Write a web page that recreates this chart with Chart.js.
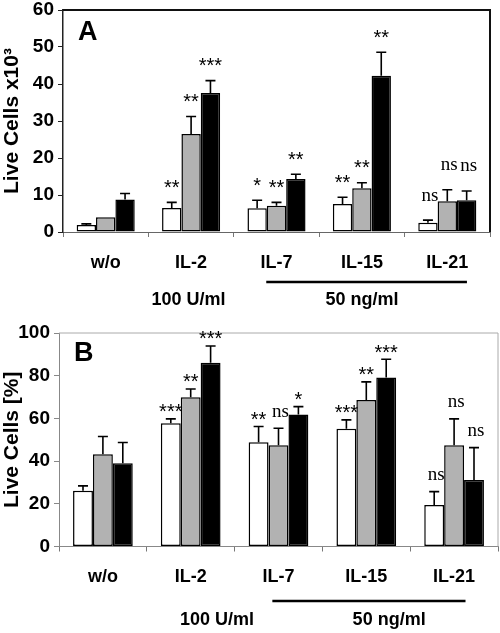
<!DOCTYPE html>
<html>
<head>
<meta charset="utf-8">
<script src="https://cdn.jsdelivr.net/npm/chart.js@4.4.0/dist/chart.umd.min.js"></script>
<style>
  body { margin: 0; background: #fff; }
  #wrap { position: relative; width: 500px; height: 633px; }
  canvas { position: absolute; left: 0; }
</style>
</head>
<body>
<div id="wrap">
  <canvas id="chartA" width="500" height="316" style="top:0"></canvas>
  <canvas id="chartB" width="500" height="317" style="top:316px"></canvas>
</div>
<script>
var categories = ['w/o', 'IL-2', 'IL-7', 'IL-15', 'IL-21'];

// panel A - live cells x10^3
var whiteA = [1.9, 6.5, 6.4, 7.6, 2.5];
var grayA  = [4.0, 26.5, 7.1, 11.8, 8.3];
var blackA = [8.8, 37.6, 14.3, 42.2, 8.6];
var whiteErrA = [0.3, 1.5, 2.2, 1.8, 0.7];
var grayErrA  = [0, 4.7, 0.9, 1.5, 3.1];
var blackErrA = [1.6, 3.3, 1.3, 6.4, 2.5];
var whiteSigA = ['', '**', '*', '**', 'ns'];
var graySigA  = ['', '**', '**', '**', 'ns'];
var blackSigA = ['', '***', '**', '**', 'ns'];

// panel B - live cells %
var whiteB = [26.1, 57.7, 48.8, 55.2, 19.4];
var grayB  = [43.2, 69.9, 47.4, 68.6, 47.4];
var blackB = [39.0, 86.1, 61.8, 79.1, 31.1];
var whiteErrB = [2.3, 2.1, 7.4, 4.1, 6.3];
var grayErrB  = [8.3, 3.9, 8.0, 8.5, 12.4];
var blackErrB = [9.7, 7.8, 3.7, 8.6, 15.2];
var whiteSigB = ['', '***', '**', '***', 'ns'];
var graySigB  = ['', '**', 'ns', '**', 'ns'];
var blackSigB = ['', '***', '*', '***', 'ns'];

var doseLabels = ['100 U/ml', '50 ng/ml'];

Chart.defaults.font.family = "'Liberation Sans', Arial, sans-serif";
Chart.defaults.color = '#000';
Chart.defaults.animation = false;

// error bars, stars, panel letter, dose labels
var extras = {
  id: 'extras',
  afterDatasetsDraw: function (chart, args, o) {
    var ctx = chart.ctx, xs = chart.scales.x, ys = chart.scales.y, a = chart.chartArea;
    ctx.save();
    ctx.strokeStyle = o.box;
    ctx.lineWidth = o.boxWidth;
    ctx.beginPath();
    ctx.moveTo(a.left, a.top);
    ctx.lineTo(a.right, a.top);
    ctx.lineTo(a.right, a.bottom);
    ctx.stroke();

    chart.data.datasets.forEach(function (ds, i) {
      chart.getDatasetMeta(i).data.forEach(function (bar, j) {
        var top = ys.getPixelForValue(ds.data[j] + ds.err[j]);
        if (ds.err[j] > 0) {
          ctx.strokeStyle = '#000';
          ctx.lineWidth = 1.6;
          ctx.beginPath();
          ctx.moveTo(bar.x, bar.y);
          ctx.lineTo(bar.x, top);
          ctx.moveTo(bar.x - 5, top);
          ctx.lineTo(bar.x + 5, top);
          ctx.stroke();
        }
        var s = ds.sig[j];
        if (!s) return;
        ctx.fillStyle = '#000';
        ctx.textAlign = 'center';
        ctx.textBaseline = 'alphabetic';
        if (s == 'ns') {
          ctx.font = "19px 'Liberation Serif', 'Times New Roman', serif";
          ctx.fillText(s, bar.x + 2, top - o.gap - 4 + 4.4);
        } else {
          ctx.font = "20px 'Liberation Sans', Arial, sans-serif";
          ctx.fillText(s, bar.x, top - o.gap + 11.4);
        }
      });
    });

    ctx.font = "bold 27px 'Liberation Sans', Arial, sans-serif";
    ctx.textAlign = 'left';
    ctx.textBaseline = 'middle';
    ctx.fillText(o.letter, a.left + 15, a.top + o.letterDy);

    ctx.font = "bold 18px 'Liberation Sans', Arial, sans-serif";
    ctx.textAlign = 'center';
    ctx.fillText(doseLabels[0], xs.getPixelForValue(1 + o.shift1), a.bottom + o.doseDy);
    ctx.fillText(doseLabels[1], xs.getPixelForValue(3 + o.shift2), a.bottom + o.doseDy);

    ctx.strokeStyle = '#000';
    ctx.lineWidth = 2.5;
    ctx.beginPath();
    ctx.moveTo(xs.getPixelForValue(2 + o.lineFrom), a.bottom + o.lineDy);
    ctx.lineTo(xs.getPixelForValue(4 + o.lineTo), a.bottom + o.lineDy);
    ctx.stroke();
    ctx.restore();
  }
};

function makeChart(id, sets, p) {
  return new Chart(document.getElementById(id), {
    type: 'bar',
    data: {
      labels: categories,
      datasets: [
        { data: sets[0], err: sets[3], sig: sets[6], backgroundColor: '#ffffff' },
        { data: sets[1], err: sets[4], sig: sets[7], backgroundColor: '#b2b2b2' },
        { data: sets[2], err: sets[5], sig: sets[8], backgroundColor: '#000000' }
      ]
    },
    options: {
      responsive: false,
      layout: { padding: { top: p.padTop, right: p.padRight, left: 0, bottom: 0 } },
      datasets: {
        bar: {
          borderColor: '#000',
          borderWidth: 1.5,
          borderSkipped: false,
          barPercentage: 1,
          categoryPercentage: 0.68
        }
      },
      plugins: {
        legend: { display: false },
        tooltip: { enabled: false },
        extras: p.extras
      },
      scales: {
        x: {
          afterFit: function (s) { s.height = p.xHeight; s.paddingLeft = 0; s.paddingRight = 0; },
          grid: { offset: true, drawOnChartArea: false, tickLength: 5, color: '#777' },
          border: { color: p.bottomColor, width: 1 },
          ticks: { font: { size: 18, weight: 'bold' }, padding: 15 }
        },
        y: {
          min: 0,
          max: p.max,
          afterFit: function (s) { s.width = p.yWidth; s.paddingTop = 0; s.paddingBottom = 0; },
          grid: { drawOnChartArea: false, tickLength: 5, color: p.leftColor },
          border: { color: p.leftColor, width: p.leftWidth },
          ticks: { stepSize: p.step, font: { size: 19, weight: 'bold' }, padding: 4 },
          title: { display: true, text: p.title, font: { size: 21, weight: 'bold' }, padding: { top: 0, bottom: 0 } }
        }
      }
    },
    plugins: [extras]
  });
}

makeChart('chartA',
  [whiteA, grayA, blackA, whiteErrA, grayErrA, blackErrA, whiteSigA, graySigA, blackSigA],
  {
    padTop: 10, padRight: 10, xHeight: 84, yWidth: 63, max: 60, step: 10,
    title: 'Live Cells x10\u00B3', bottomColor: '#666', leftColor: '#222', leftWidth: 1.5,
    extras: { box: '#111', boxWidth: 2, gap: 20, letter: 'A', letterDy: 23,
      shift1: -0.03, shift2: 0, doseDy: 68, lineFrom: -0.12, lineTo: 0.23, lineDy: 50 }
  });

makeChart('chartB',
  [whiteB, grayB, blackB, whiteErrB, grayErrB, blackErrB, whiteSigB, graySigB, blackSigB],
  {
    padTop: 17, padRight: 2, xHeight: 86.5, yWidth: 59, max: 100, step: 20,
    title: 'Live Cells [%]', bottomColor: '#888', leftColor: '#888', leftWidth: 1,
    extras: { box: '#aaa', boxWidth: 1, gap: 12, letter: 'B', letterDy: 21,
      shift1: 0.3, shift2: 0.26, doseDy: 73.5, lineFrom: -0.07, lineTo: 0.13, lineDy: 54.5 }
  });
</script>
</body>
</html>
